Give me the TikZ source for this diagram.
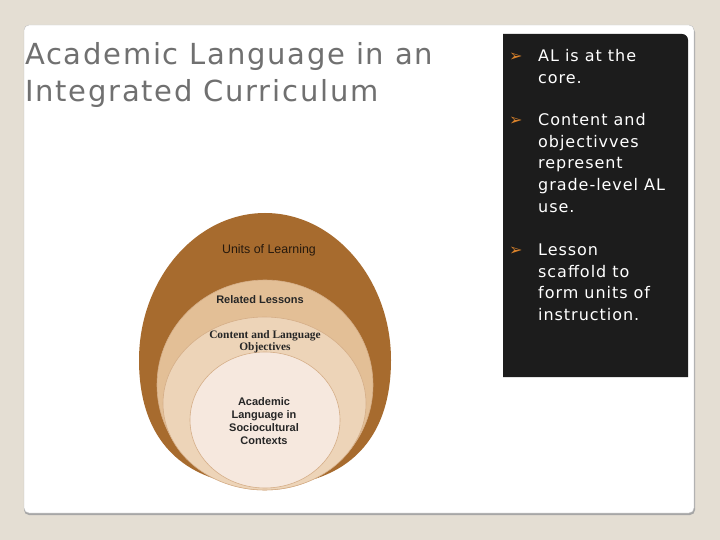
\documentclass[tikz,border=0pt]{standalone}
\usepackage{fontspec}
\setmainfont{Liberation Sans}
\newfontfamily\slidefont[LetterSpace=6]{DejaVu Sans}
\newfontfamily\bulletfont{DejaVu Sans}
\newfontfamily\objfont{Liberation Serif}
\usepackage{xcolor}
\definecolor{slidebg}{HTML}{E4DED3}
\definecolor{panelbg}{HTML}{1C1C1C}
\definecolor{unitsfill}{HTML}{A76B2E}
\definecolor{lessonsfill}{HTML}{E3BF96}
\definecolor{objfill}{HTML}{EDD4B8}
\definecolor{corefill}{HTML}{F6E8DE}
\definecolor{ringedge}{HTML}{D5AE88}
\definecolor{bulletorange}{HTML}{D9822B}
\tikzset{
	ringtext/.style={inner sep=0pt, align=center, text=black!85, font=\fontsize{11}{13.2}\selectfont\bfseries},
	paneltext/.style={inner sep=0pt, anchor=base west, align=left, text=white, font=\slidefont\fontsize{16}{21.6}\selectfont},
	bulletmark/.style={inner sep=0pt, anchor=base west, text=bulletorange, font=\bulletfont\fontsize{16}{16}\selectfont}
}

\begin{document}
\begin{tikzpicture}[x=1pt,y=-1pt]
		\useasboundingbox[fill=slidebg] (0,0) rectangle (720,540);
		\fill[black!35, rounded corners=5pt] (24,27) rectangle (695,515);
		\filldraw[fill=white, draw=black!25, rounded corners=5pt] (24,25) rectangle (694,513);
		\fill[panelbg] (503,377) -- (503,34) [rounded corners=6pt] -- (688,34) [sharp corners] -- (688,377) -- cycle;

		\fill[unitsfill] (265,213) .. controls (334.6,213) and (391,280) .. (391,360) .. controls (391,448) and (338,486) .. (265,486) .. controls (192,486) and (139,448) .. (139,360) .. controls (139,280) and (195.4,213) .. (265,213);
		\filldraw[fill=lessonsfill, draw=ringedge, line width=0.6pt] (265,385) circle [x radius=108pt, y radius=105pt];
		\filldraw[fill=objfill, draw=ringedge, line width=0.6pt] (264.5,403.5) circle [x radius=101.5pt, y radius=86.5pt];
		\filldraw[fill=corefill, draw=ringedge, line width=0.6pt] (265,420) circle [x radius=75pt, y radius=68pt];

		\node[inner sep=0pt, anchor=base, text=black!80!brown, font=\fontsize{12.4}{14}\selectfont] (units) at (269,253) {Units of Learning};
		\node[ringtext, anchor=base] (lessons) at (260,303) {Related Lessons};
		\node[ringtext, font=\objfont\fontsize{11.4}{11.5}\selectfont\bfseries] (objectives) at (265,342) {Content and Language\\Objectives};
		\node[ringtext] (core) at (264,421) {Academic\\Language in\\Sociocultural\\Contexts};

		\node[inner sep=0pt, anchor=base west, align=left, text=black!56, font=\slidefont\fontsize{29}{36.7}\selectfont] (title) at (25,101.7) {Academic Language in an\\Integrated Curriculum};

		\node[bulletmark] (mark1) at (509,61.7) {➢};
		\node[paneltext] (point1) at (538,83.3) {AL is at the\\core.};
		\node[bulletmark] (mark2) at (509,125.7) {➢};
		\node[paneltext] (point2) at (538,212.1) {Content and\\objectivves\\represent\\grade-level AL\\use.};
		\node[bulletmark] (mark3) at (509,255.7) {➢};
		\node[paneltext] (point3) at (538,320.5) {Lesson\\scaffold to\\form units of\\instruction.};
	\end{tikzpicture}
\end{document}
